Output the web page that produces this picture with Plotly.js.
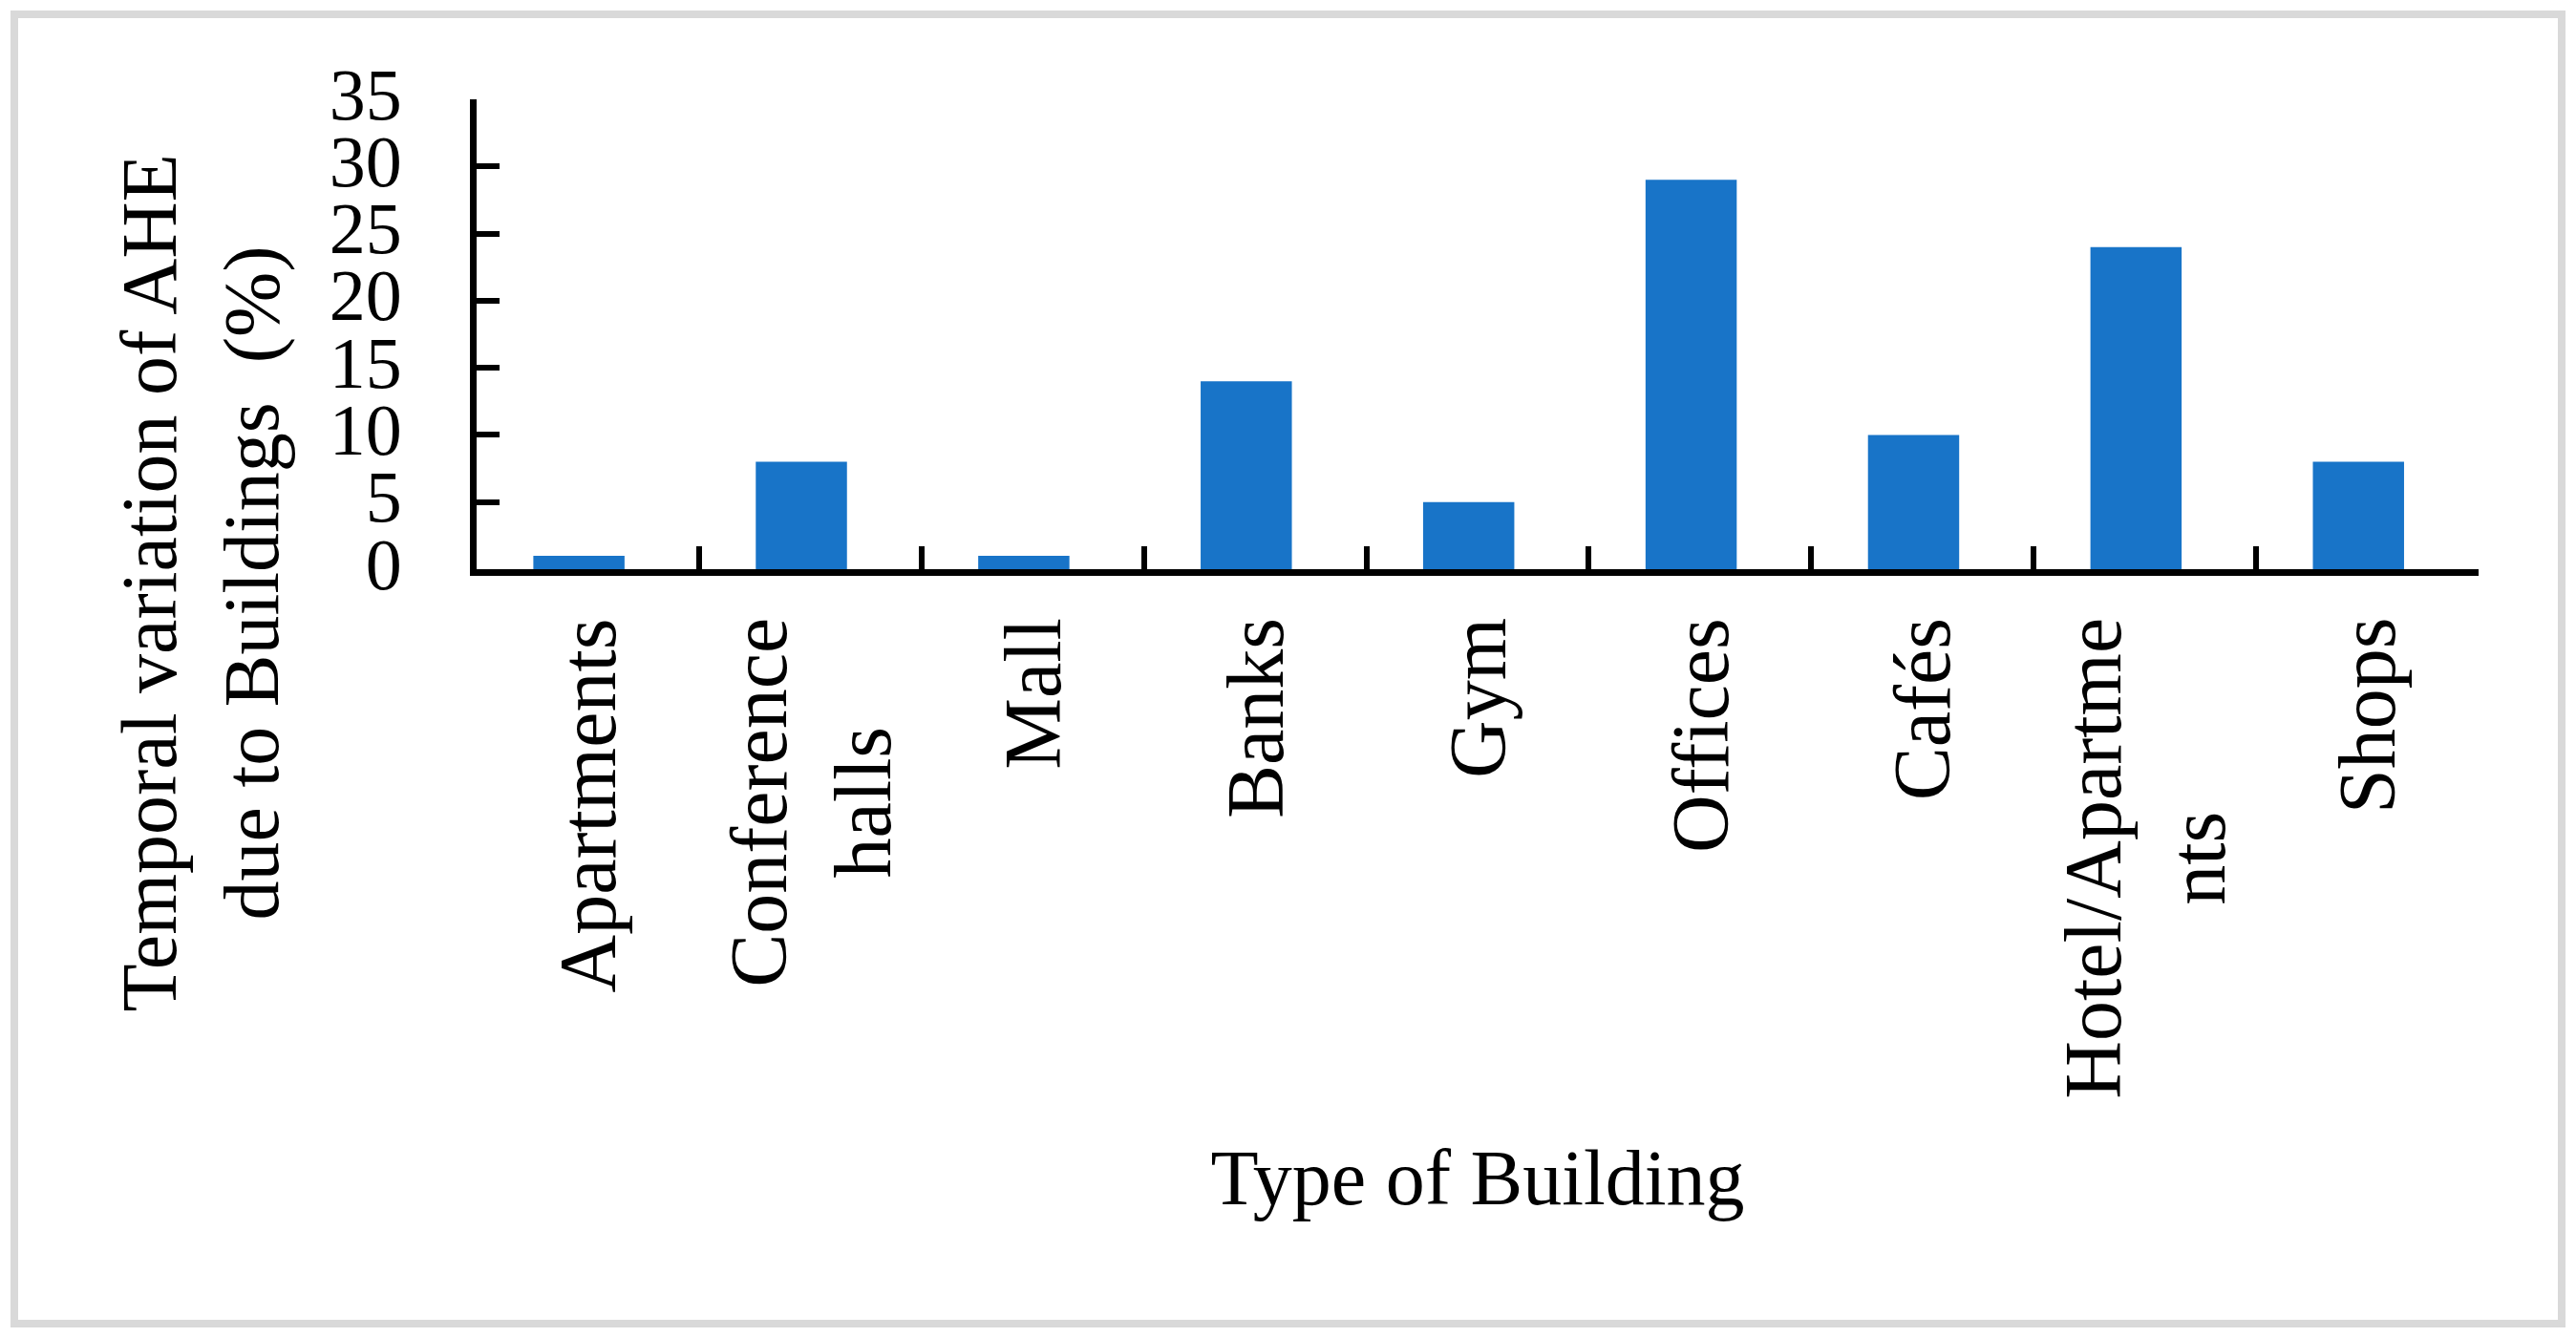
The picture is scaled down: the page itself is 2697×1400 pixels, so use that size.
<!DOCTYPE html>
<html>
<head>
<meta charset="utf-8">
<script src="https://cdn.plot.ly/plotly-3.0.1.min.js"></script>
<style>
  html, body { margin: 0; padding: 0; background: #ffffff; }
  #wrap { position: relative; width: 2697px; height: 1400px; }
  #chart { position: absolute; left: 0; top: 0; width: 2697px; height: 1400px; }
  #frame { position: absolute; left: 11px; top: 11px; width: 2659px; height: 1363px;
           border: 8px solid #d9d9d9; pointer-events: none; }
</style>
</head>
<body>
<div id="wrap">
  <div id="chart"></div>
  <div id="frame"></div>
</div>
<script>
const categories = ["Apartments", "Conference<br>halls", "Mall", "Banks", "Gym", "Offices", "Cafés", "Hotel/Apartme<br>nts", "Shops"];
const values = [1, 8, 1, 14, 5, 29, 10, 24, 8];
const yTicks = [0, 5, 10, 15, 20, 25, 30, 35];
const xTitle = "Type of Building";
const yTitle = "Temporal variation of AHE<br>due to Buildings  (%)";

const FONT = "Liberation Serif, Times New Roman, serif";
const FS_NUM = 76;
const FS = 84;

const trace = {
  type: "bar",
  x: categories,
  y: values,
  marker: { color: "#1874c8", line: { width: 0 } },
  width: 0.41,
  offset: -0.245,
  hoverinfo: "x+y"
};

// category labels drawn as rotated, centre-aligned text at each category position
const catLabels = categories.map(function (c) {
  return {
    x: c, xref: "x",
    y: 0, yref: "paper",
    xanchor: "center", yanchor: "top",
    yshift: -49,
    text: c,
    textangle: -90,
    align: "center",
    showarrow: false,
    font: { family: FONT, size: FS, color: "#000000" }
  };
});

const yTitleAnn = {
  x: -0.138, xref: "paper",
  y: -0.03, yref: "paper",
  xanchor: "center", yanchor: "middle",
  text: yTitle,
  textangle: -90,
  align: "center",
  showarrow: false,
  font: { family: FONT, size: 82, color: "#000000" }
};

const layout = {
  width: 2697,
  height: 1400,
  paper_bgcolor: "#ffffff",
  plot_bgcolor: "#ffffff",
  margin: { l: 499, r: 102, t: 104, b: 804, pad: 0 },
  showlegend: false,
  font: { family: FONT, size: FS, color: "#000000" },
  xaxis: {
    type: "category",
    showline: true,
    linecolor: "#000000",
    linewidth: 7,
    ticks: "inside",
    ticklen: 24,
    tickwidth: 6,
    tickcolor: "#000000",
    tickson: "boundaries",
    showticklabels: false,
    showgrid: false,
    zeroline: false,
    automargin: false,
    title: { text: xTitle, font: { family: FONT, size: 82, color: "#000000" }, standoff: 604 },
    range: [-0.5, 8.5]
  },
  yaxis: {
    range: [0, 35],
    tickvals: yTicks,
    ticktext: yTicks.map(String),
    showline: true,
    linecolor: "#000000",
    linewidth: 7,
    ticks: "inside",
    ticklen: 24,
    tickwidth: 6,
    tickcolor: "#000000",
    ticklabelstandoff: 56,
    ticklabelshift: -6,
    showgrid: false,
    zeroline: false,
    automargin: false,
    tickfont: { family: FONT, size: FS_NUM, color: "#000000" }
  },
  annotations: catLabels.concat([yTitleAnn])
};

Plotly.newPlot("chart", [trace], layout, { staticPlot: true, displayModeBar: false });
</script>
</body>
</html>
